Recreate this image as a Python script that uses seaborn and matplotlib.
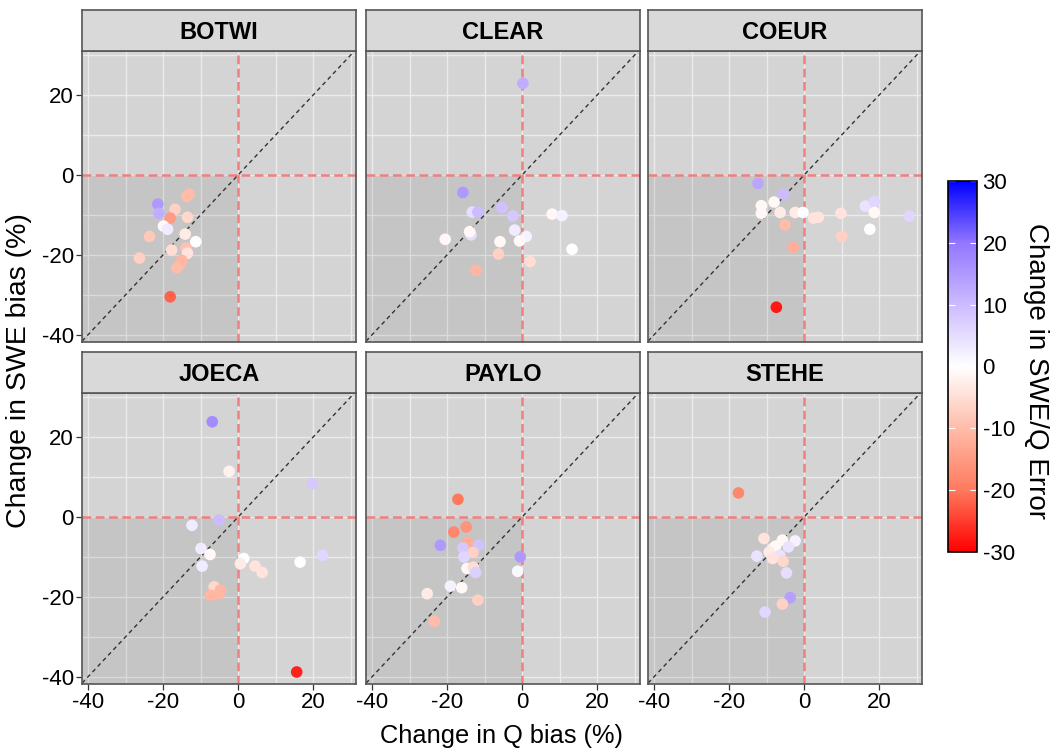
import numpy as np
import pandas as pd
import matplotlib
matplotlib.use("Agg")
import matplotlib.pyplot as plt
import seaborn as sns
from matplotlib.colors import LinearSegmentedColormap, Normalize
from matplotlib.cm import ScalarMappable

plt.rcParams["font.family"] = ["Liberation Sans", "DejaVu Sans"]
plt.rcParams["axes.unicode_minus"] = False

sites = ["BOTWI", "CLEAR", "COEUR", "JOECA", "PAYLO", "STEHE"]

# change in Q bias (x), change in SWE bias (y), change in SWE/Q error (colour)
botwi_q = [-21.4, -21.1, -13.7, -13.1, -16.8, -18.1, -13.5, -19.9, -18.8, -23.6,
           -14.1, -11.3, -17.7, -13.9, -13.5, -26.3, -15.0, -15.5, -16.3, -18.1]
botwi_swe = [-7.3, -9.6, -5.4, -4.8, -8.6, -10.8, -10.6, -12.8, -13.6, -15.4,
             -14.8, -16.7, -18.8, -18.3, -19.6, -20.8, -21.4, -22.5, -23.2, -30.5]
botwi_err = [15, 12, -10, -10, -7, -15, -6, -1, 3, -8,
             -3, 0, -5, -9, -4, -7, -11, -11, -10, -22]

clear_q = [0.2, -15.8, -13.3, -11.8, -5.4, -2.5, 8.0, 10.6, -13.6, -14.0,
           -20.5, -2.0, 1.1, -0.7, -5.9, 13.3, -6.3, 2.1, -12.3]
clear_swe = [22.9, -4.4, -9.3, -9.3, -8.2, -10.3, -9.8, -10.2, -15.0, -14.2,
             -16.1, -13.8, -15.4, -16.5, -16.7, -18.6, -19.8, -21.7, -23.9]
clear_err = [12, 15, 5, 10, 9, 8, -1, 2, 5, -1,
             -1, 3, 2, -1, -1, 0, -7, -5, -11]

coeur_q = [-12.3, -5.5, -8.0, -11.4, -11.4, -6.4, -2.4, -0.3, 2.5, 3.8,
           9.8, 16.3, 18.7, 18.7, 28.0, 17.5, -5.1, 10.0, -2.9, -7.4]
coeur_swe = [-2.1, -4.8, -6.8, -7.7, -9.6, -9.4, -9.4, -9.4, -10.8, -10.6,
             -9.6, -7.8, -6.7, -9.4, -10.3, -13.6, -12.5, -15.4, -18.1, -33.1]
coeur_err = [13, 10, -1, -1, -1, -3, -3, 0, -4, -4,
             -4, 4, 6, -1, 6, 0, -10, -7, -12, -28]

joeca_q = [-6.9, -2.4, 19.8, -5.1, -12.3, -9.9, -7.5, -9.6, 1.5, 0.6,
           4.5, 6.4, 16.5, 22.5, -6.4, -4.7, -5.1, -7.4, 15.6]
joeca_swe = [23.8, 11.4, 8.3, -0.8, -2.1, -7.9, -9.4, -12.3, -10.4, -11.7,
             -12.3, -13.9, -11.3, -9.6, -17.5, -18.3, -19.2, -19.6, -38.8]
joeca_err = [17, -2, 8, 10, 3, 3, -1, 3, 0, -3,
             -4, -4, 0, 6, -6, -11, -11, -11, -27]

paylo_q = [-17.1, -18.2, -14.9, -21.8, -14.5, -11.6, -15.8, -13.1, -15.5, -0.5,
           -14.7, -13.0, -12.4, -1.2, -19.1, -16.1, -25.3, -11.8, -23.4]
paylo_swe = [4.4, -3.8, -2.5, -7.1, -6.3, -7.1, -7.8, -8.9, -10.0, -10.0,
             -12.9, -12.6, -13.9, -13.6, -17.3, -17.7, -19.2, -20.8, -26.1]
paylo_err = [-20, -18, -16, 15, -12, 9, 8, -7, 6, 15,
             -1, -5, 7, 1, 2, -1, -3, -7, -10]

stehe_q = [-17.5, -10.7, -5.8, -2.4, -4.2, -8.4, -7.6, -9.3, -12.6, -6.5,
           -8.4, -5.6, -4.7, -3.7, -5.8, -10.4]
stehe_swe = [6.0, -5.4, -5.8, -6.0, -7.5, -7.9, -7.3, -8.8, -9.8, -9.6,
             -10.4, -11.1, -14.0, -20.2, -21.8, -23.8]
stehe_err = [-18, -4, -1, 2, 4, -3, -1, -3, 4, 4,
             -4, -6, 5, 14, -7, 6]

site_q = [botwi_q, clear_q, coeur_q, joeca_q, paylo_q, stehe_q]
site_swe = [botwi_swe, clear_swe, coeur_swe, joeca_swe, paylo_swe, stehe_swe]
site_err = [botwi_err, clear_err, coeur_err, joeca_err, paylo_err, stehe_err]

frames = []
for name, q, swe, err in zip(sites, site_q, site_swe, site_err):
    frames.append(pd.DataFrame({"site": name, "dq": q, "dswe": swe, "err": err}))
df = pd.concat(frames, ignore_index=True)

cmap = LinearSegmentedColormap.from_list(
    "swe_q",
    [(0.0, "#FF0000"), (1/6, "#FF7A5E"), (2/6, "#FFBCA9"), (0.5, "#FFFFFF"),
     (4/6, "#CDBBFF"), (5/6, "#9377FF"), (1.0, "#0000FF")])
norm = Normalize(-30, 30)

W, H = 1050, 749
fig = plt.figure(figsize=(W / 100, H / 100), dpi=100)

col_left = [82, 366, 648]
row_top = [51, 393]
pw, ph, sh = 274, 291, 41

for i, name in enumerate(sites):
    r, c = divmod(i, 3)
    x0, y0 = col_left[c], row_top[r]
    ax = fig.add_axes([x0 / W, 1 - (y0 + ph) / H, pw / W, ph / H])
    sax = fig.add_axes([x0 / W, 1 - y0 / H, pw / W, sh / H])

    ax.set_facecolor("#D4D4D4")
    ax.set_xlim(-41.6, 31.4)
    ax.set_ylim(-41.8, 31)
    for v in range(-40, 31, 10):
        ax.axvline(v, color="#EBEBEB", lw=1.0, zorder=0.5)
        ax.axhline(v, color="#EBEBEB", lw=1.0, zorder=0.5)
    ax.fill_between([-41.6, 0], -41.8, 0, color="black", alpha=0.07, lw=0, zorder=1)
    ax.axvline(0, color="#F08080", lw=1.8, dashes=(3.5, 1.8), zorder=1.5)
    ax.axhline(0, color="#F08080", lw=1.8, dashes=(3.5, 1.8), zorder=1.5)
    ax.axline((0, 0), slope=1, color="#333333", lw=1.0, dashes=(3, 2.5), zorder=1.6)

    sns.scatterplot(data=df[df["site"] == name], x="dq", y="dswe", hue="err",
                    palette=cmap, hue_norm=norm, s=70, linewidth=0,
                    legend=False, ax=ax, zorder=3)

    ax.set_xlabel("")
    ax.set_ylabel("")
    ax.set_xticks([-40, -20, 0, 20])
    ax.set_yticks([-40, -20, 0, 20])
    ax.tick_params(length=4, width=0.9, color="#333333", labelsize=16,
                   labelcolor="black", pad=2)
    if r == 0:
        ax.tick_params(labelbottom=False, bottom=False)
    if c != 0:
        ax.tick_params(labelleft=False, left=False)
    for sp in ax.spines.values():
        sp.set_color("#555555")
        sp.set_linewidth(1.2)

    sax.set_facecolor("#D9D9D9")
    sax.set_xticks([])
    sax.set_yticks([])
    for sp in sax.spines.values():
        sp.set_color("#555555")
        sp.set_linewidth(1.2)
    sax.text(0.5, 0.45, name, ha="center", va="center", fontsize=17,
             fontweight="bold", transform=sax.transAxes)

fig.text(19 / W, 1 - 371 / H, "Change in SWE bias (%)", rotation=90,
         ha="center", va="center", fontsize=20.5)
fig.text(501 / W, 1 - 736 / H, "Change in Q bias (%)", ha="center",
         va="center", fontsize=18.3)

cax = fig.add_axes([948 / W, 1 - 552 / H, 29 / W, 371 / H])
cb = fig.colorbar(ScalarMappable(norm=norm, cmap=cmap), cax=cax,
                  ticks=[-30, -20, -10, 0, 10, 20, 30])
cb.outline.set_edgecolor("black")
cb.outline.set_linewidth(1.2)
cax.tick_params(direction="in", length=5, width=0.8, color="white",
                labelsize=16, labelcolor="black", pad=4)
cax.tick_params(which="both", left=True, right=True)
fig.text(1036 / W, 1 - 371 / H, "Change in SWE/Q Error", rotation=270,
         ha="center", va="center", fontsize=20)

fig.savefig("out.png", dpi=100)
